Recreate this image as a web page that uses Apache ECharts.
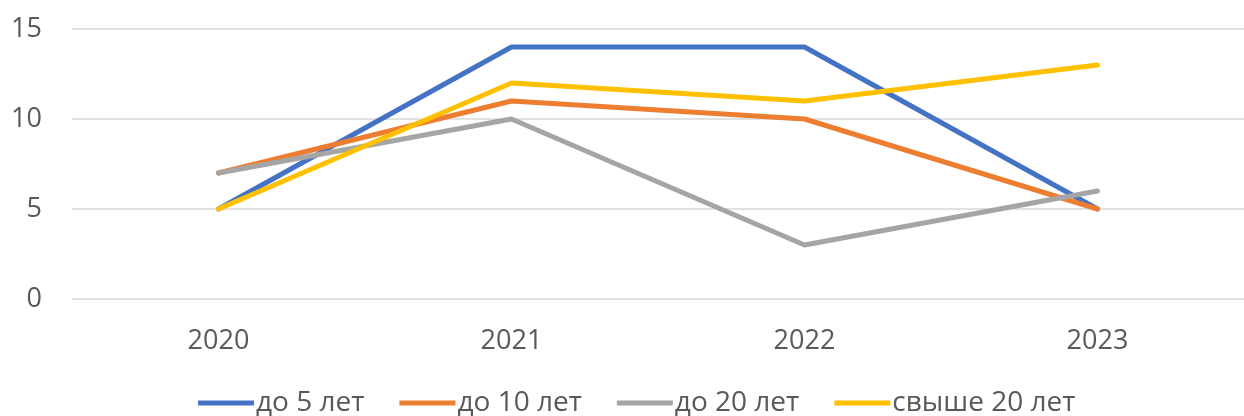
<!DOCTYPE html>
<html>
<head>
<meta charset="utf-8">
<script src="https://cdn.jsdelivr.net/npm/echarts@6/dist/echarts.min.js"></script>
<style>html,body{margin:0;padding:0;background:#fff}#c{width:1244px;height:416px}</style>
</head>
<body>
<div id="c"></div>
<script>
const categories = ['2020', '2021', '2022', '2023'];
const s1Name = 'до 5 лет';
const s1 = [5, 14, 14, 5];
const s2Name = 'до 10 лет';
const s2 = [7, 11, 10, 5];
const s3Name = 'до 20 лет';
const s3 = [7, 10, 3, 6];
const s4Name = 'свыше 20 лет';
const s4 = [5, 12, 11, 13];
const yTicks = [0, 5, 10, 15];

const colors = ['#4472C4', '#ED7D31', '#A5A5A5', '#FFC000'];
const FONT = '"Open Sans", "Liberation Sans", sans-serif';
const chart = echarts.init(document.getElementById('c'), null, {renderer: 'canvas'});
const mk = (name, data, i) => ({
  name, type: 'line', data, symbol: 'none', showSymbol: false,
  lineStyle: {width: 5, color: colors[i], cap: 'round', join: 'round'},
  itemStyle: {color: colors[i]}, z: 2 + i
});
chart.setOption({
  animation: false,
  color: colors,
  grid: {left: 72, right: -11, top: 29, height: 270},
  xAxis: {
    type: 'category', data: categories, boundaryGap: true,
    axisLine: {show: false}, axisTick: {show: false},
    axisLabel: {color: '#595959', fontSize: 27, margin: 29, fontFamily: FONT}
  },
  yAxis: {
    type: 'value', min: yTicks[0], max: yTicks[yTicks.length - 1], interval: 5,
    axisLine: {show: false}, axisTick: {show: false},
    splitLine: {lineStyle: {color: '#d9d9d9', width: 1.5}},
    axisLabel: {color: '#595959', fontSize: 27, margin: 30, fontFamily: FONT}
  },
  legend: {
    top: 389, left: 198, padding: 0, itemWidth: 56, itemHeight: 5, itemGap: 35,
    icon: 'rect',
    textStyle: {color: '#595959', fontSize: 28, padding: [0, 0, 0, -3], fontFamily: FONT},
    data: [s1Name, s2Name, s3Name, s4Name]
  },
  series: [mk(s1Name, s1, 0), mk(s2Name, s2, 1), mk(s3Name, s3, 2), mk(s4Name, s4, 3)]
});
</script>
</body>
</html>
